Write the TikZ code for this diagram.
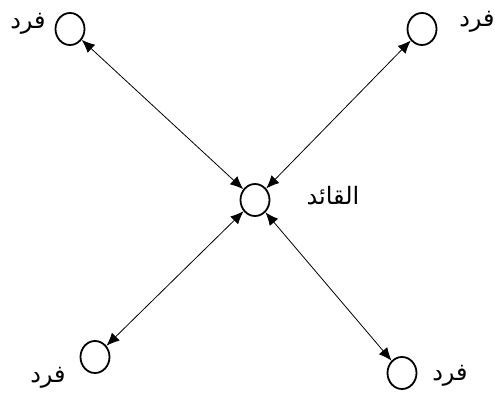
\documentclass[tikz,border=0pt]{standalone}
\usepackage{fontspec}
\usetikzlibrary{arrows.meta,shapes.geometric}
\TeXXeTstate=1
\newfontfamily\arabicfont[Script=Arabic]{DejaVu Sans}
\begin{document}
\begin{tikzpicture}[x=1pt,y=-1pt,
  person/.style={draw, ellipse, line width=1.8pt, minimum width=29pt, minimum height=32pt, inner sep=0pt},
  lbl/.style={font=\arabicfont\fontsize{24}{28}\selectfont, inner sep=0pt},
  link/.style={{Latex[length=13pt,width=11pt]}-{Latex[length=13pt,width=11pt]}, line width=0.8pt}]
\useasboundingbox (0,0) rectangle (495,396);
\node[person] (c) at (255,200) {};
\node[person] (tl) at (70,29) {};
\node[person] (tr) at (422,29) {};
\node[person] (bl) at (95,357) {};
\node[person] (br) at (402,373) {};
\node[lbl] (lc) at (333,196) {\beginR القائد\endR};
\node[lbl] (ltl) at (28,24) {\beginR فرد\endR};
\node[lbl] (ltr) at (477,22) {\beginR فرد\endR};
\node[lbl] (lbl) at (48,378) {\beginR فرد\endR};
\node[lbl] (lbr) at (450,376) {\beginR فرد\endR};
\draw[link] (c) -- (tl);
\draw[link] (c) -- (tr);
\draw[link] (c) -- (bl);
\draw[link] (c) -- (br);
\end{tikzpicture}
\end{document}
